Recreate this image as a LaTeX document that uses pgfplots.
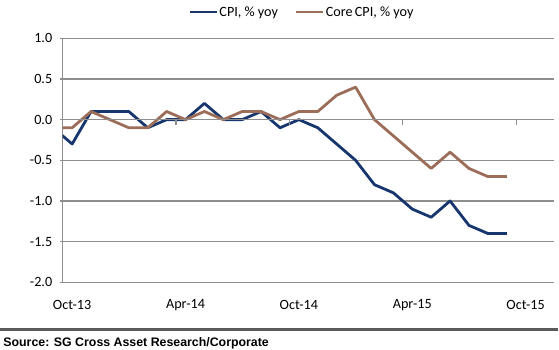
\documentclass[border=0pt]{standalone}
\usepackage{pgfplots}
\pgfplotsset{compat=1.18}
\usepackage{fontspec}
\setmainfont{Carlito}
\newfontfamily\srcfont{Liberation Sans}
\definecolor{cpiblue}{HTML}{17366E}
\definecolor{corebrown}{HTML}{9C6D58}
\definecolor{gridgray}{HTML}{8E8E8E}
\definecolor{srcgray}{HTML}{5A5A5A}
\begin{document}
\begin{tikzpicture}
\path[use as bounding box] (-62.7bp,-67.7bp) rectangle (496.3bp,282.3bp);
\begin{axis}[
  scale only axis,
  width=491.3bp, height=244bp,
  xmin=-0.5, xmax=25.5,
  ymin=-2, ymax=1,
  axis x line*=bottom, axis y line*=left,
  axis line style={gridgray, line width=1.2bp},
  xtick={0,6,12,18,24},
  xticklabels={Oct-13,Apr-14,Oct-14,Apr-15,Oct-15},
  major x tick style={draw=none},
  ytick={-2,-1.5,-1,-0.5,0,0.5,1},
  tick align=outside,
  major tick length=3bp,
  ytick style={gridgray, line width=1.2bp},
  ymajorgrids,
  grid style={gridgray, line width=1.2bp},
  /pgf/number format/assume math mode=true,
  yticklabel={\pgfmathprintnumber[fixed,fixed zerofill,precision=1]{\tick}},
  yticklabel style={xshift=-4bp},
  xticklabel style={yshift=-11bp},
  tick label style={font=\fontsize{14.2}{16}\selectfont},
  legend columns=2,
  legend style={at={(0.255,1.108)}, anchor=west, draw=none, fill=none,
    inner sep=0pt, font=\fontsize{14.2}{16}\selectfont,
    nodes={inner sep=1.5bp},
    /tikz/every even column/.append style={column sep=15bp}},
  legend image code/.code={\draw[#1] (0bp,0bp) -- (27bp,0bp);},
]
\addplot[cpiblue, line width=2.8bp, line join=round] coordinates {
(-1,-0.1) (0,-0.3) (1,0.1) (2,0.1) (3,0.1) (4,-0.1) (5,0.0) (6,0.0) (7,0.2)
(8,0.0) (9,0.0) (10,0.1) (11,-0.1) (12,0.0) (13,-0.1) (14,-0.3) (15,-0.5)
(16,-0.8) (17,-0.9) (18,-1.1) (19,-1.2) (20,-1.0) (21,-1.3) (22,-1.4) (23,-1.4)
};
\addlegendentry{CPI, \% yoy}
\addplot[corebrown, line width=2.8bp, line join=round] coordinates {
(-1,-0.1) (0,-0.1) (1,0.1) (2,0.0) (3,-0.1) (4,-0.1) (5,0.1) (6,0.0) (7,0.1)
(8,0.0) (9,0.1) (10,0.1) (11,0.0) (12,0.1) (13,0.1) (14,0.3) (15,0.4)
(16,0.0) (17,-0.2) (18,-0.4) (19,-0.6) (20,-0.4) (21,-0.6) (22,-0.7) (23,-0.7)
};
\addlegendentry{Core\,CPI, \% yoy}
\end{axis}
\begin{axis}[
  scale only axis,
  width=491.3bp, height=244bp,
  xmin=-0.5, xmax=25.5,
  ymin=-2, ymax=1,
  axis x line=middle, axis y line=none,
  axis line style={gridgray, line width=1.2bp, -},
  xtick={5.5,11.5,17.5,23.5},
  xticklabels={},
  tick align=outside,
  major tick length=5bp,
  xtick style={gridgray, line width=1.2bp},
  ytick=\empty,
]
\end{axis}
\draw[srcgray, line width=2.5bp] (-62.7bp,-47bp) -- (495.5bp,-47bp);
\node[anchor=west, inner sep=0pt, font=\srcfont\bfseries\fontsize{12.4}{14}\selectfont] at (-59.5bp,-60.7bp) {Source: SG Cross Asset Research/Corporate};
\end{tikzpicture}
\end{document}
